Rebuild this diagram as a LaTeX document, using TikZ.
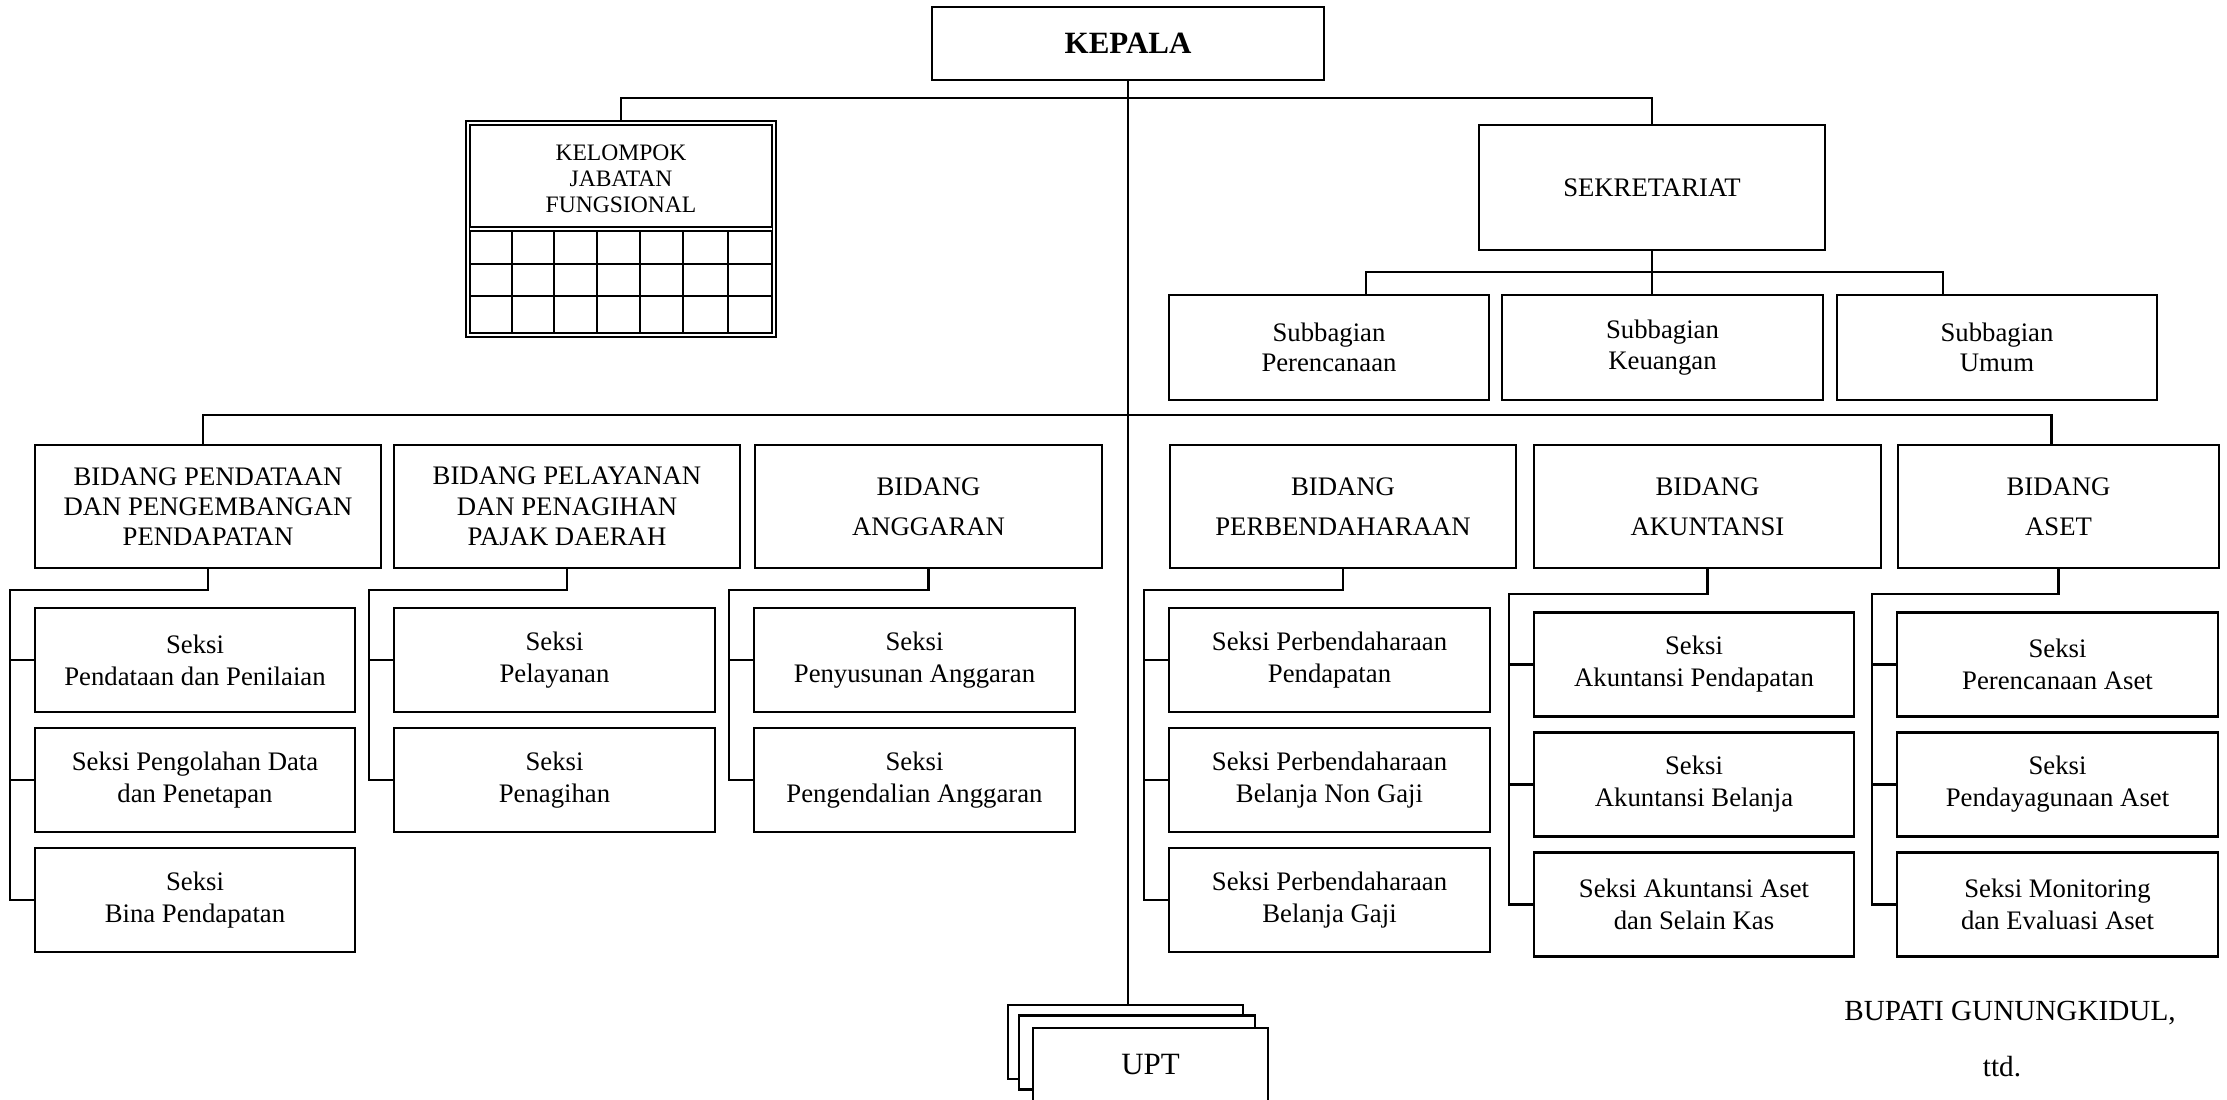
\documentclass[tikz,border=0pt]{standalone}
\usepackage{fontspec}
\setmainfont{Liberation Serif}
\begin{document}
\begin{tikzpicture}[x=0.01cm, y=-0.01cm,
    unitbox/.style={draw, line width=0.6pt, fill=white, align=center, inner sep=0pt,
      font=\fontsize{7.6}{8.8}\selectfont},
    bidangbox/.style={unitbox, minimum width=3.46cm, minimum height=1.23cm,
      font=\fontsize{7.6}{8.6}\selectfont},
    bidangwide/.style={bidangbox, font=\fontsize{7.6}{11.4}\selectfont},
    seksibox/.style={unitbox, minimum width=3.2cm, minimum height=1.04cm,
      font=\fontsize{7.6}{9.1}\selectfont},
    subbox/.style={unitbox, minimum width=3.2cm, minimum height=1.05cm,
      font=\fontsize{7.6}{8.6}\selectfont},
    uptbox/.style={unitbox, minimum width=2.35cm, minimum height=0.74cm},
    link/.style={line width=0.6pt},
    gridline/.style={line width=0.5pt}]
    \useasboundingbox (0,0) rectangle (2227,1100);
    \clip (0,0) rectangle (2227,1100);

    % Kepala and the UPT stack
    \node[unitbox, minimum width=3.92cm, minimum height=0.73cm,
      font=\bfseries\fontsize{8.8}{10}\selectfont] (kepala) at (1128,43.5) {KEPALA};
    \node[uptbox] (uptc) at (1125.5,1042) {};
    \node[uptbox] (uptb) at (1137,1052.5) {};
    \node[uptbox, font=\fontsize{8.8}{10}\selectfont] (upt) at (1150.5,1065) {UPT};
    \draw[link] (kepala.south) -- (kepala.south |- uptc.north);

    % Kelompok jabatan fungsional
    \node[draw, double, double distance=0.02cm, line width=0.55pt, inner sep=0pt,
      minimum width=3.065cm, minimum height=2.125cm] (kjf) at (621,229) {};
    \node[align=center, font=\fontsize{6.7}{7.4}\selectfont] (kjftext) at (621,179)
      {KELOMPOK\\JABATAN\\FUNGSIONAL};
    \draw[line width=0.5pt, double, double distance=0.02cm] (470,229) -- (772,229);
    \foreach \gx in {512,554,597,640,683,728}
      \draw[gridline] (\gx,231) -- (\gx,333);
    \foreach \gy in {264,296}
      \draw[gridline] (470,\gy) -- (772,\gy);

    % Sekretariat
    \node[unitbox, minimum width=3.46cm, minimum height=1.25cm] (sekr) at (1652,187.5) {SEKRETARIAT};
    \coordinate (kbar) at (1127,98);
    \draw[link] (kjf.north) |- (kbar) -| (sekr.north);

    \node[subbox] (sbren) at (1329,347.5) {Subbagian\\Perencanaan};
    \node[subbox] (sbkeu) at (1662.5,347.5) {Subbagian\\Keuangan};
    \node[subbox] (sbumum) at (1997,347.5) {Subbagian\\Umum};
    \coordinate (sbar) at (1655,272);
    \draw[link] (sekr.south) -- (sekr.south |- sbkeu.north);
    \draw[link] ([xshift=0.37cm]sbren.north) |- (sbar) -| ([xshift=-0.54cm]sbumum.north);

    % Bidang
    \node[bidangbox] (bpend) at (208,506.5) {BIDANG PENDATAAN\\DAN PENGEMBANGAN\\PENDAPATAN};
    \node[bidangbox] (bpel) at (567,506.5) {BIDANG PELAYANAN\\DAN PENAGIHAN\\PAJAK DAERAH};
    \node[bidangwide] (bangg) at (928.5,506.5) {BIDANG\\ANGGARAN};
    \node[bidangwide] (bbend) at (1343,506.5) {BIDANG\\PERBENDAHARAAN};
    \node[bidangwide] (bakun) at (1707.5,506.5) {BIDANG\\AKUNTANSI};
    \node[bidangwide, minimum width=3.2cm] (baset) at (2058.5,506.5) {BIDANG\\ASET};
    \coordinate (bbar) at (1127,415);
    \draw[link] ([xshift=-0.05cm]bpend.north) |- (bbar) -| ([xshift=-0.07cm]baset.north);

    % Seksi
    \node[seksibox] (sdata) at (195,660) {Seksi\\Pendataan dan Penilaian};
    \node[seksibox] (solah) at (195,780) {Seksi Pengolahan Data\\dan Penetapan};
    \node[seksibox] (sbina) at (195,900) {Seksi\\Bina Pendapatan};

    \node[seksibox] (slayan) at (554.5,660) {Seksi\\Pelayanan};
    \node[seksibox] (stagih) at (554.5,780) {Seksi\\Penagihan};

    \node[seksibox] (ssusun) at (914.5,660) {Seksi\\Penyusunan Anggaran};
    \node[seksibox] (skendali) at (914.5,780) {Seksi\\Pengendalian Anggaran};

    \node[seksibox] (sbpend) at (1329.5,660) {Seksi Perbendaharaan\\Pendapatan};
    \node[seksibox] (sbnon) at (1329.5,780) {Seksi Perbendaharaan\\Belanja Non Gaji};
    \node[seksibox] (sbgaji) at (1329.5,900) {Seksi Perbendaharaan\\Belanja Gaji};

    \node[seksibox] (sakpend) at (1694,664.5) {Seksi\\Akuntansi Pendapatan};
    \node[seksibox] (sakbel) at (1694,784.5) {Seksi\\Akuntansi Belanja};
    \node[seksibox] (sakaset) at (1694,904.5) {Seksi Akuntansi Aset\\dan Selain Kas};

    \node[seksibox] (sren) at (2057.5,664.5) {Seksi\\Perencanaan Aset};
    \node[seksibox] (sdaya) at (2057.5,784.5) {Seksi\\Pendayagunaan Aset};
    \node[seksibox] (smon) at (2057.5,904.5) {Seksi Monitoring\\dan Evaluasi Aset};

    \foreach \b/\last in {bpend/sbina, bpel/stagih, bangg/skendali, bbend/sbgaji}
      \draw[link] (\b.south) -- ++(0,21) -| ([xshift=-0.24cm]\last.west) -- (\last.west);
    \foreach \b/\last in {bakun/sakaset, baset/smon}
      \draw[link] (\b.south) -- ++(0,25) -| ([xshift=-0.24cm]\last.west) -- (\last.west);
    \foreach \s in {sdata,solah,slayan,ssusun,sbpend,sbnon,sakpend,sakbel,sren,sdaya}
      \draw[link] ([xshift=-0.24cm]\s.west) -- (\s.west);

    % Signature
    \node[font=\fontsize{8.3}{10}\selectfont] (bupati) at (2010,1013) {BUPATI GUNUNGKIDUL,};
    \node[font=\fontsize{8.3}{10}\selectfont] (ttd) at (2002,1067) {ttd.};

\end{tikzpicture}
\end{document}
